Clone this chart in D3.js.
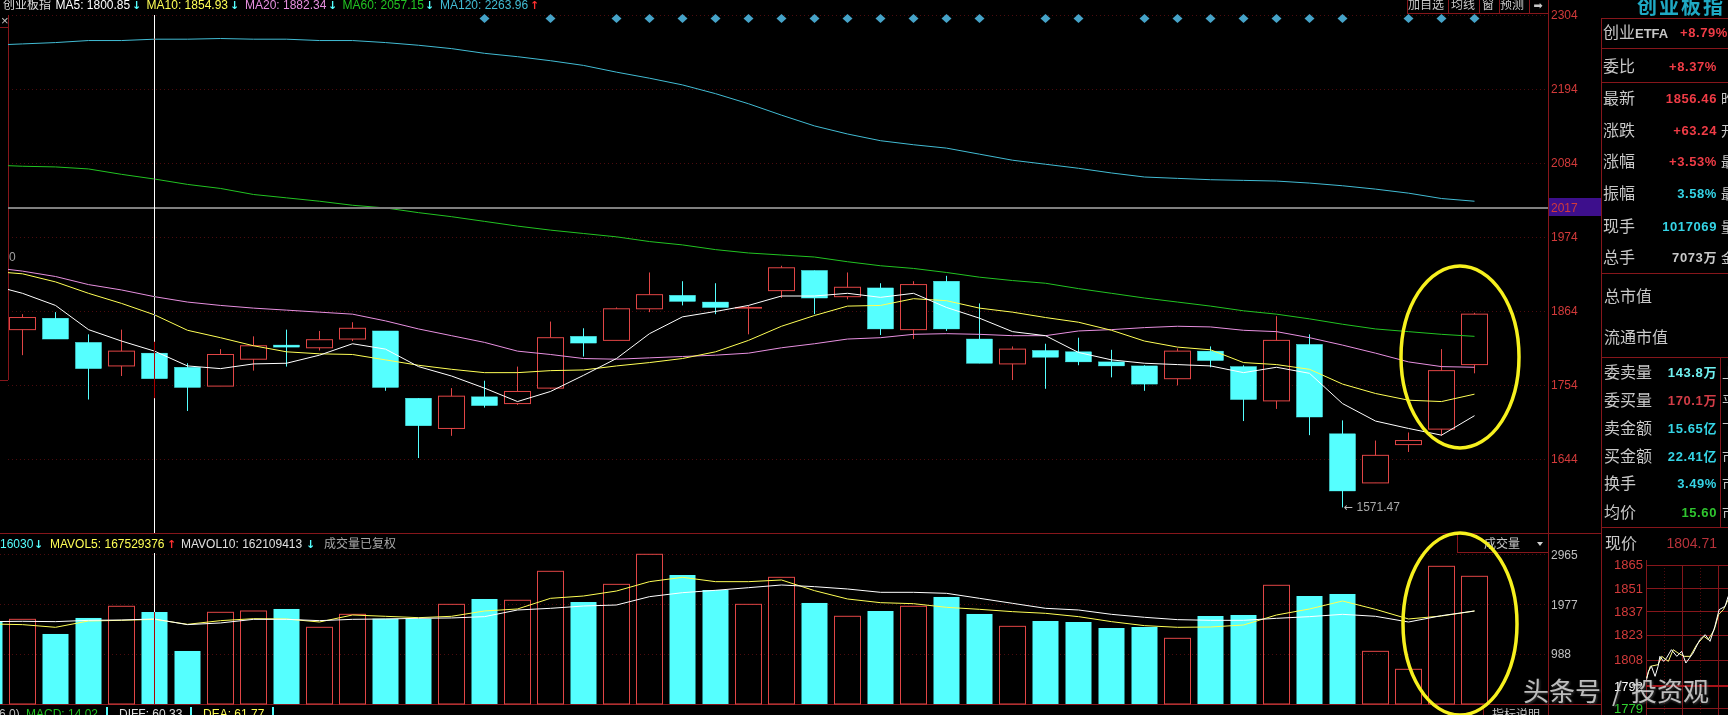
<!DOCTYPE html>
<html>
<head>
<meta charset="utf-8">
<script src="https://cdn.jsdelivr.net/npm/d3@7"></script>
<style>
  html, body { margin: 0; background: #000; overflow: hidden; }
  svg { display: block; }
  text { font-family: "Liberation Sans", "Noto Sans CJK SC", sans-serif; }
  .axis text { font-size: 12px; }
  .axis path, .axis line { display: none; }
</style>
</head>
<body>
<script>
// daily candles, index points
const open_vals = [1836,1853,1817,1782,1801,1780,1752,1792,1813,1809,1822,1834,1734,1689,1736,1726,1749,1826,1820,1867,1887,1877,1868,1894,1924,1885,1898,1836,1908,1822,1785,1805,1803,1788,1782,1763,1804,1781,1730,1814,1681,1608,1665,1688,1784];
const close_vals = [1854,1822,1778,1804,1763,1750,1799,1812,1810,1821,1838,1750,1693,1737,1723,1744,1824,1816,1867,1888,1878,1869,1869,1928,1883,1899,1837,1903,1837,1786,1807,1795,1788,1782,1755,1804,1790,1732,1820,1706,1596,1649,1671,1775,1859];
const high_vals = [1859,1862,1829,1836,1818,1786,1807,1826,1836,1834,1847,1834,1734,1749,1760,1781,1848,1838,1869,1921,1908,1905,1872,1931,1924,1921,1905,1908,1916,1875,1811,1815,1824,1806,1783,1808,1811,1783,1856,1829,1701,1671,1683,1807,1861];
const low_vals = [1798,1822,1732,1767,1734,1715,1752,1775,1781,1805,1819,1745,1645,1678,1720,1724,1748,1796,1820,1862,1872,1859,1829,1883,1859,1881,1828,1822,1834,1786,1761,1748,1783,1765,1745,1753,1780,1700,1718,1679,1571.47,1608,1654,1678,1771];

// moving averages, first value is the day before the first candle (clipped by the frame)
const ma5 = [1903,1890,1872,1836,1819,1804,1782,1778,1785,1786,1798,1815,1807,1781,1767,1749,1729,1744,1768,1793,1830,1855,1863,1872,1886,1886,1890,1884,1890,1869,1853,1833,1827,1802,1791,1786,1784,1782,1772,1780,1771,1726,1700,1689,1679,1708];
const ma10 = [1923,1919,1907,1890,1875,1858,1835,1824,1812,1803,1800,1799,1791,1783,1777,1772,1772,1775,1776,1782,1787,1793,1803,1820,1841,1857,1871,1872,1882,1879,1868,1862,1854,1847,1835,1819,1810,1806,1787,1784,1777,1755,1741,1731,1729,1740];
const ma20 = [1929,1923,1915,1903,1895,1885,1877,1872,1868,1865,1862,1859,1849,1837,1827,1817,1804,1799,1793,1792,1794,1796,1798,1801,1809,1815,1822,1824,1829,1830,1829,1827,1827,1834,1836,1839,1841,1840,1835,1833,1824,1813,1801,1788,1781,1780];
const ma60 = [2081,2079,2078,2075,2067,2060,2052,2046,2037,2032,2027,2021,2017,2010,2004,1997,1990,1984,1979,1974,1967,1962,1955,1950,1947,1944,1937,1931,1927,1921,1914,1909,1905,1897,1890,1883,1877,1871,1864,1859,1852,1844,1837,1833,1829,1826];
const ma120 = [2259,2261,2263,2266,2266,2268,2268,2269,2268,2268,2266,2266,2263,2259,2254,2247,2242,2236,2229,2219,2210,2200,2187,2172,2155,2139,2127,2117,2111,2106,2097,2088,2082,2076,2069,2063,2061,2059,2058,2057,2054,2050,2045,2039,2031,2027];

// volume, same leading day as the averages
const volume = [1631,1677,1387,1704,1935,1822,1050,1816,1842,1882,1519,1776,1690,1690,1974,2080,2054,2628,2020,2370,2965,2555,2258,1974,2509,2001,1737,1842,1935,2120,1783,1538,1644,1624,1505,1525,1301,1743,1763,2351,2139,2179,1043,687,2727,2529];
const mavol5 = [1585,1572,1519,1644,1657,1677,1578,1651,1690,1684,1624,1763,1737,1710,1737,1842,1882,2093,2139,2238,2423,2509,2423,2423,2456,2245,2080,2007,1987,1915,1875,1829,1796,1730,1631,1552,1519,1525,1565,1763,1882,2040,1875,1684,1743,1842];
const mavol10 = [1631,1638,1631,1657,1664,1684,1572,1605,1677,1677,1651,1677,1684,1697,1704,1730,1862,1895,1941,1961,2126,2205,2252,2304,2357,2324,2278,2212,2212,2192,2093,1994,1895,1862,1776,1717,1671,1657,1657,1697,1730,1776,1737,1624,1750,1842];

// candles that carry a diamond in the top row
const diamond_days = [14,16,18,19,20,21,22,23,24,25,26,27,28,29,31,32,34,35,36,37,38,39,40,42,43,44];

// axis ticks
const price_ticks = [2304,2194,2084,1974,1864,1754,1644];
const volume_ticks = [2965,1977,988];
const cross_price = 2017;
const cross_day = 4;

// legend rows
const ma_labels = ["MA5: 1800.85","MA10: 1854.93","MA20: 1882.34","MA60: 2057.15","MA120: 2263.96"];
const ma_arrows = ["↓","↓","↓","↓","↑"];
const vol_labels = ["16030","MAVOL5: 167529376","MAVOL10: 162109413"];
const vol_arrows = ["↓","↑","↓"];
const toolbar_labels = ["加自选","均线","窗","预测"];

// right hand quote panel
const quote_labels = ["创业ETFA","委比","最新","涨跌","涨幅","振幅","现手","总手"];
const quote_values = ["+8.79%","+8.37%","1856.46","+63.24","+3.53%","3.58%","1017069","7073万"];
const quote_tails = ["","","昨","开","最","最","量","金"];
const book_labels = ["委卖量","委买量","卖金额","买金额","换手","均价"];
const book_values = ["143.8万","170.1万","15.65亿","22.41亿","3.49%","15.60"];
const book_tails = ["上","平","下","市","市","市"];

// intraday mini chart, minutes from the open
const mini_ticks = [1865,1851,1837,1823,1808,1792,1779];
const mini_white_min = [1,4,9,15,20,23,29,34,42,51,59,66,78,89,98,106,114,121,131,136];
const mini_white = [1796,1801,1804,1798,1804,1810,1807,1809,1814,1810,1813,1806,1812,1820,1823,1819,1828,1838,1840,1846];
const mini_yellow_min = [1,7,20,26,37,45,53,63,73,84,96,103,113,120,128,136];
const mini_yellow = [1797,1804,1805,1810,1807,1814,1812,1810,1810,1817,1822,1820,1826,1835,1838,1844];

// colors
const up_red = "#e04545";
const down_cyan = "#55ffff";
const frame_red = "#86161b";
const grid_red = "#4c0b0e";
const label_red = "#d23a3a";
const label_grey = "#c0c0c0";
const ma_colors = ["#ffffff","#ffff55","#e890e0","#22c322","#42bcd4"];
const quote_colors = ["#f03c46","#f03c46","#f03c46","#f03c46","#f03c46","#35d4e6","#35d4e6","#c8c8c8"];
const book_colors = ["#6ff0f0","#d23c46","#35d4e6","#35d4e6","#35d4e6","#2fc52f"];
const cjk = "'Noto Sans CJK SC', sans-serif";

// frame
const chart_right = 1548;
const panel_left = 1601;
const price_top = 15;
const pane_bottom = 533;
const vol_top = 553;
const vol_bottom = 704;

const svg = d3.select("body").append("svg").attr("width", 1728).attr("height", 715);

const x = d3.scaleLinear().domain([0, 44]).range([22.5, 1474.5]);
const y_price = d3.scaleLinear().domain([1644, 2304]).range([458.7, 15]);
const y_vol = d3.scaleLinear().domain([0, 2965]).range([vol_bottom, 554.3]);

const defs = svg.append("defs");
defs.append("clipPath").attr("id", "price_clip").append("rect")
  .attr("x", 8).attr("y", price_top).attr("width", chart_right - 8).attr("height", pane_bottom - price_top);
defs.append("clipPath").attr("id", "mini_clip").append("rect")
  .attr("x", 1646).attr("y", 560).attr("width", 90).attr("height", 160);

function text(x_pos, y_pos, str, color, size, opts) {
  opts = opts || {};
  return svg.append("text")
    .attr("x", x_pos).attr("y", y_pos)
    .attr("fill", color)
    .attr("font-size", size)
    .attr("text-anchor", opts.anchor || "start")
    .attr("font-weight", opts.weight || "normal")
    .style("font-family", opts.family || null)
    .style("letter-spacing", opts.spacing || null)
    .text(str);
}

function hline(x1, x2, y_pos, color, dash, width) {
  svg.append("line").attr("x1", x1).attr("x2", x2).attr("y1", y_pos).attr("y2", y_pos)
    .attr("stroke", color).attr("stroke-width", width || 1)
    .attr("stroke-dasharray", dash || null).attr("shape-rendering", "crispEdges");
}

function vline(x_pos, y1, y2, color, dash) {
  svg.append("line").attr("x1", x_pos).attr("x2", x_pos).attr("y1", y1).attr("y2", y2)
    .attr("stroke", color).attr("stroke-dasharray", dash || null).attr("shape-rendering", "crispEdges");
}

/* GRID AND FRAME */
price_ticks.forEach(function (d) { hline(8, chart_right, Math.round(y_price(d)), grid_red, "1,3"); });
volume_ticks.forEach(function (d) { hline(0, chart_right, Math.round(y_vol(d)), grid_red, "1,3"); });
hline(0, panel_left, pane_bottom, frame_red);
hline(0, panel_left, vol_bottom, frame_red);
vline(chart_right, 0, 715, frame_red);
vline(panel_left, 18, 715, frame_red);
vline(8, price_top, 380, frame_red);
hline(0, 8, 380, frame_red);
hline(0, 8, 27, frame_red);
text(1, 25, "×", label_grey, 13);

/* CANDLES */
const candles = open_vals.map(function (d, i) {
  return { day: i, open: d, close: close_vals[i], high: high_vals[i], low: low_vals[i] };
});
const candle_g = svg.append("g").attr("clip-path", "url(#price_clip)");
const candle_color = function (d) { return d.close >= d.open ? up_red : down_cyan; };

candle_g.selectAll(".wick").data(candles).join("line")
  .attr("class", "wick")
  .attr("x1", function (d) { return x(d.day); })
  .attr("x2", function (d) { return x(d.day); })
  .attr("y1", function (d) { return y_price(d.high); })
  .attr("y2", function (d) { return y_price(d.low); })
  .attr("stroke", candle_color)
  .attr("stroke-width", 1);

candle_g.selectAll(".body").data(candles).join("rect")
  .attr("class", "body")
  .attr("x", function (d) { return x(d.day) - 13; })
  .attr("width", 26)
  .attr("y", function (d) { return y_price(Math.max(d.open, d.close)); })
  .attr("height", function (d) { return Math.abs(y_price(d.open) - y_price(d.close)); })
  .attr("fill", function (d) { return d.close >= d.open ? "#000" : down_cyan; })
  .attr("stroke", candle_color)
  .attr("stroke-width", function (d) { return d.close >= d.open ? 1 : 0.4; });

/* MOVING AVERAGES */
const price_line = d3.line().x(function (d, i) { return x(i - 1); }).y(function (d) { return y_price(d); });
[ma120, ma60, ma20, ma10, ma5].forEach(function (series, i) {
  candle_g.append("path").attr("d", price_line(series)).attr("fill", "none")
    .attr("stroke", ma_colors[4 - i]).attr("stroke-width", 1);
});

/* DIAMONDS */
svg.selectAll(".diamond").data(diamond_days).join("path")
  .attr("class", "diamond")
  .attr("d", "M-5,0L0,-4.5L5,0L0,4.5Z")
  .attr("transform", function (d) { return "translate(" + x(d) + ",18.5)"; })
  .attr("fill", "#46a3c8");

/* VOLUME */
const vol_g = svg.append("g");
vol_g.selectAll(".vol").data(volume).join("rect")
  .attr("class", "vol")
  .attr("x", function (d, i) { return x(i - 1) - 13; })
  .attr("width", 26)
  .attr("y", function (d) { return y_vol(d); })
  .attr("height", function (d) { return y_vol(0) - y_vol(d); })
  .attr("fill", function (d, i) { return i > 0 && close_vals[i - 1] >= open_vals[i - 1] ? "none" : down_cyan; })
  .attr("stroke", function (d, i) { return i > 0 && close_vals[i - 1] >= open_vals[i - 1] ? up_red : "none"; })
  .attr("stroke-width", 1);

const vol_line = d3.line().x(function (d, i) { return x(i - 1); }).y(function (d) { return y_vol(d); });
vol_g.append("path").attr("d", vol_line(mavol5)).attr("fill", "none").attr("stroke", "#ffff55").attr("stroke-width", 1);
vol_g.append("path").attr("d", vol_line(mavol10)).attr("fill", "none").attr("stroke", "#ffffff").attr("stroke-width", 1);

/* AXES */
svg.append("g").attr("class", "axis").attr("transform", "translate(" + chart_right + ",0)")
  .call(d3.axisRight(y_price).tickValues(price_ticks).tickSize(0).tickPadding(3).tickFormat(d3.format("d")))
  .selectAll("text").attr("fill", label_red);

svg.append("g").attr("class", "axis").attr("transform", "translate(" + chart_right + ",0)")
  .call(d3.axisRight(y_vol).tickValues(volume_ticks).tickSize(0).tickPadding(3).tickFormat(d3.format("d")))
  .selectAll("text").attr("fill", label_grey);

// current price box
svg.append("rect").attr("x", chart_right + 1).attr("y", 198).attr("width", panel_left - chart_right - 1).attr("height", 18).attr("fill", "#3d0f8c");
text(chart_right + 3, y_price(cross_price) + 4, cross_price, label_red, 12);

/* LOW LABEL */
const low_day = low_vals.indexOf(d3.min(low_vals));
text(x(low_day) + 1, y_price(low_vals[low_day]) + 4, "←", label_grey, 11).style("font-family", "'DejaVu Sans'");
text(x(low_day) + 14, y_price(low_vals[low_day]) + 4, low_vals[low_day], "#a8a8a8", 12);
text(9, 261, "0", "#a0a0a0", 12);

/* TOP LEGEND */
text(3, 9, "创业板指", "#dcdcdc", 12, { family: cjk });
const ma_x = [55.5, 146.6, 245, 342.5, 440];
const ma_arrow_x = [132, 230, 328, 425, 530];
ma_labels.forEach(function (d, i) {
  text(ma_x[i], 9, d, ma_colors[i], 12);
  text(ma_arrow_x[i], 9, ma_arrows[i], ma_arrows[i] == "↑" ? "#ff3030" : down_cyan, 11, { weight: "bold", family: "'DejaVu Sans'" });
});

/* TOOLBAR */
hline(1407, chart_right, 13, frame_red);
[1407, 1448, 1479, 1499, 1529].forEach(function (d) { vline(d, 0, 13, frame_red); });
const toolbar_x = [1426, 1463, 1488, 1512];
toolbar_labels.forEach(function (d, i) {
  text(toolbar_x[i], 9, d, "#c8c8c8", 12, { anchor: "middle", family: cjk });
});
text(1538, 9, "➡", "#c8c8c8", 11, { anchor: "middle", family: "'DejaVu Sans'" });

/* VOLUME LEGEND */
const vol_x = [0, 50, 181];
const vol_arrow_x = [34, 167, 306];
const vol_colors = [down_cyan, "#ffff55", "#e0e0e0"];
const vol_arrow_colors = [down_cyan, "#ff3030", down_cyan];
vol_labels.forEach(function (d, i) {
  text(vol_x[i], 548, d, vol_colors[i], 12);
  text(vol_arrow_x[i], 548, vol_arrows[i], vol_arrow_colors[i], 11, { weight: "bold", family: "'DejaVu Sans'" });
});
text(324, 548, "成交量已复权", "#a8a8a8", 12, { family: cjk });

// volume selector box
vline(1457, pane_bottom, 552, frame_red);
hline(1457, chart_right, 552, frame_red);
text(1502, 548, "成交量", "#c8c8c8", 12, { anchor: "middle", family: cjk });
svg.append("path").attr("d", "M1537,542L1543,542L1540,546Z").attr("fill", "#d0d0d0");

/* MACD ROW */
text(-1, 718, "6,0)", label_grey, 12);
text(26, 718, "MACD:  14.02", "#22c322", 12);
text(119, 718, "DIFF:  60.33", "#e0e0e0", 12);
text(203, 718, "DEA:  61.77", "#ffff55", 12);
[106, 190, 272].forEach(function (d) {
  svg.append("rect").attr("x", d).attr("y", 707).attr("width", 2).attr("height", 8).attr("fill", down_cyan);
});
vline(1483, vol_bottom, 715, frame_red);
text(1492, 719, "指标说明", "#c8c8c8", 12, { family: cjk });

/* CROSSHAIR, inverts whatever it crosses like the original */
const cross = svg.append("g").style("mix-blend-mode", "difference");
cross.append("line").attr("x1", 8).attr("x2", chart_right).attr("y1", Math.round(y_price(cross_price))).attr("y2", Math.round(y_price(cross_price)))
  .attr("stroke", "#fff").attr("stroke-width", 1);
cross.append("line").attr("x1", x(cross_day)).attr("x2", x(cross_day)).attr("y1", price_top).attr("y2", pane_bottom)
  .attr("stroke", "#fff").attr("stroke-width", 1);
cross.append("line").attr("x1", x(cross_day)).attr("x2", x(cross_day)).attr("y1", vol_top).attr("y2", vol_bottom)
  .attr("stroke", "#fff").attr("stroke-width", 1);

/* QUOTE PANEL */
text(1637, 14, "创业板指", "#1fa9c4", 20, { weight: "bold", family: cjk, spacing: "2px" });
[18, 48, 82, 273, 357, 527].forEach(function (d) { hline(panel_left, 1728, d, frame_red); });
const quote_y = [38, 72, 104, 136, 167, 199, 232, 263];
quote_labels.forEach(function (d, i) {
  if (i == 0) {
    text(1603, quote_y[i], "创业", "#c8c8c8", 16, { family: cjk });
    text(1635, quote_y[i], "ETFA", "#c8c8c8", 13, { weight: "bold" });
  } else {
    text(1603, quote_y[i], d, "#c8c8c8", 16, { family: cjk });
  }
  text(i == 0 ? 1728 : 1717, quote_y[i] - 1, quote_values[i], quote_colors[i], 13, { anchor: "end", weight: "bold", spacing: "0.6px" });
  text(1721, quote_y[i], quote_tails[i], "#c8c8c8", 14, { family: cjk });
});
text(1604, 302, "总市值", "#c8c8c8", 16, { family: cjk });
text(1604, 343, "流通市值", "#c8c8c8", 16, { family: cjk });

vline(1720, 357, 527, frame_red);
const book_y = [378, 406, 434, 462, 489, 518];
book_labels.forEach(function (d, i) {
  text(1604, book_y[i], d, "#c8c8c8", 16, { family: cjk });
  text(1717, book_y[i] - 1, book_values[i], book_colors[i], 13, { anchor: "end", weight: "bold", spacing: "0.6px" });
  text(1722, book_y[i], book_tails[i], "#c8c8c8", 14, { family: cjk });
});
text(1605, 549, "现价", "#c8c8c8", 16, { family: cjk });
text(1717, 548, "1804.71", "#b8323a", 14, { anchor: "end" });

/* MINI CHART */
const x_mini = d3.scaleLinear().domain([0, 240]).range([1646, 1791]);
const y_mini = d3.scaleLinear().domain([1779, 1865]).range([708, 564.7]);
const mini_dotted = [30, 90];
const mini_solid = [60, 120];

vline(1646, 560, 715, frame_red);
mini_solid.forEach(function (d) { vline(x_mini(d), 565, 715, frame_red); });
mini_dotted.forEach(function (d) { vline(x_mini(d), 565, 715, grid_red, "1,2"); });
mini_ticks.forEach(function (d) { hline(1646, 1728, Math.round(y_mini(d)), d == 1792 ? "#a81218" : frame_red, null, d == 1792 ? 2 : 1); });

svg.append("g").attr("class", "axis").attr("transform", "translate(1646,0)")
  .call(d3.axisLeft(y_mini).tickValues(mini_ticks).tickSize(0).tickPadding(3).tickFormat(d3.format("d")))
  .selectAll("text")
  .attr("fill", function (d) { return d == 1792 ? "#fff" : d == 1779 ? "#2fd22f" : label_red; })
  .style("font-size", "13px");

const mini_line = function (mins, vals) {
  return d3.line().x(function (d, i) { return x_mini(mins[i]); }).y(function (d) { return y_mini(d); })(vals);
};
const mini_g = svg.append("g").attr("clip-path", "url(#mini_clip)");
mini_g.append("path").attr("d", mini_line(mini_yellow_min, mini_yellow)).attr("fill", "none").attr("stroke", "#ffff80").attr("stroke-width", 1);
mini_g.append("path").attr("d", mini_line(mini_white_min, mini_white)).attr("fill", "none").attr("stroke", "#ffffff").attr("stroke-width", 1);

/* YELLOW CIRCLES, drawn on top by hand in the original */
const circle_g = svg.append("g").attr("fill", "none").attr("stroke", "#f6f01e").attr("stroke-width", 3.5);
circle_g.append("ellipse").attr("cx", 1460).attr("cy", 357).attr("rx", 59).attr("ry", 91);
circle_g.append("ellipse").attr("cx", 1460).attr("cy", 624).attr("rx", 57).attr("ry", 91);

/* WATERMARK */
[[1523, "头条号"], [1612, "/"], [1631, "投资观"]].forEach(function (d) {
  text(d[0], 701, d[1], "#d8d8d8", 26, { family: cjk })
    .attr("opacity", 0.88)
    .style("filter", "drop-shadow(1px 1px 1px #444)");
});
</script>
</body>
</html>
